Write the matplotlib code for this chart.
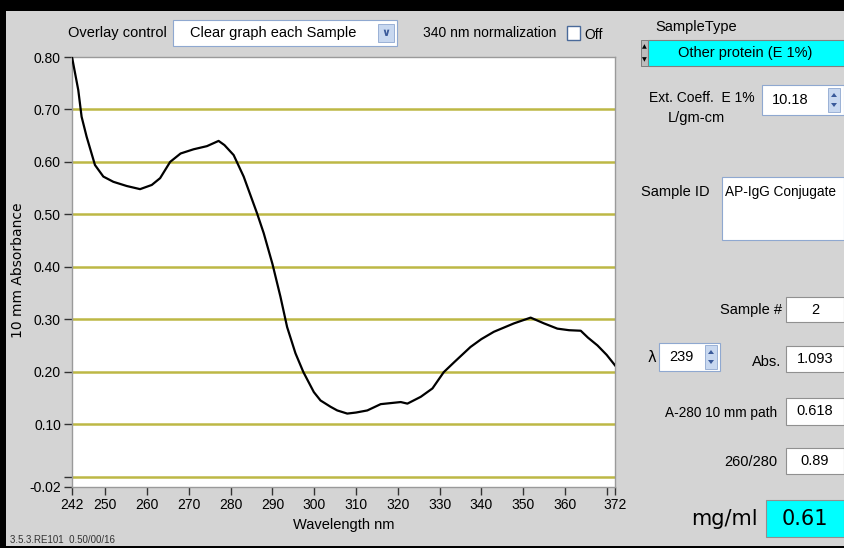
import matplotlib.pyplot as plt
from matplotlib.patches import Rectangle, Polygon

# spectrum
wavelength = [242, 243.5, 244.3, 245.5, 247.5, 249.5, 251.9, 255.1, 258.3, 261.1,
              263.1, 265.5, 268, 271.1, 274.3, 277.1, 278.5, 280.7, 283.1, 286.3,
              287.9, 290, 291.9, 293.5, 295.5, 297.4, 299.9, 301.5, 303.9, 305.5,
              307.9, 310, 312.7, 315.9, 318.3, 320.7, 322.3, 325.5, 328.3, 331,
              333.5, 337.4, 340, 343, 347.8, 351.8, 355, 358.2, 361, 363.8,
              365.5, 367.8, 370, 372]
absorbance = [0.80, 0.737, 0.686, 0.648, 0.594, 0.572, 0.562, 0.554, 0.548, 0.556,
              0.569, 0.600, 0.616, 0.624, 0.630, 0.640, 0.632, 0.613, 0.572, 0.502,
              0.464, 0.405, 0.343, 0.285, 0.235, 0.199, 0.161, 0.145, 0.133, 0.126,
              0.120, 0.122, 0.126, 0.138, 0.140, 0.142, 0.139, 0.152, 0.168, 0.199,
              0.218, 0.247, 0.262, 0.276, 0.292, 0.303, 0.292, 0.282, 0.279, 0.278,
              0.265, 0.250, 0.232, 0.212]

x_ticks = [242, 250, 260, 270, 280, 290, 300, 310, 320, 330, 340, 350, 360, 370, 372]
x_labels = ["242", "250", "260", "270", "280", "290", "300", "310", "320", "330",
            "340", "350", "360", "", "372"]
y_ticks = [-0.02, 0.0, 0.10, 0.20, 0.30, 0.40, 0.50, 0.60, 0.70, 0.80]
y_labels = ["-0.02", "", "0.10", "0.20", "0.30", "0.40", "0.50", "0.60", "0.70", "0.80"]
grid_levels = [0.0, 0.10, 0.20, 0.30, 0.40, 0.50, 0.60, 0.70]

W, H = 844, 548
BG = "#d4d4d4"
CYAN = "#00ffff"
FONT = ["Liberation Sans", "DejaVu Sans"]

fig = plt.figure(figsize=(W / 100, H / 100), dpi=100, facecolor=BG)


def rect(x, y, w, h, fc, ec="none", lw=1, z=1):
    fig.add_artist(Rectangle((x / W, 1 - (y + h) / H), w / W, h / H,
                             transform=fig.transFigure, facecolor=fc,
                             edgecolor=ec, linewidth=lw, zorder=z))


def txt(x, y, s, size=10, ha="left", va="center", **kw):
    kw.setdefault("family", FONT)
    fig.text(x / W, 1 - y / H, s, fontsize=size, ha=ha, va=va, zorder=5, **kw)


def spinner(x, y, h):
    # little up/down arrow button
    rect(x, y, 12, h, "#c8d8f0", ec="#8fa8d0", lw=0.6, z=3)
    mid = y + h / 2
    up = [((x + 3) / W, 1 - (mid - 3) / H), ((x + 9) / W, 1 - (mid - 3) / H),
          ((x + 6) / W, 1 - (mid - 7) / H)]
    dn = [((x + 3) / W, 1 - (mid + 3) / H), ((x + 9) / W, 1 - (mid + 3) / H),
          ((x + 6) / W, 1 - (mid + 7) / H)]
    for tri in (up, dn):
        fig.add_artist(Polygon(tri, closed=True, transform=fig.transFigure,
                               facecolor="#3a5a9a", edgecolor="none", zorder=4))


# window frame
rect(0, 0, W, 11, "black", z=2)
rect(0, 0, 6, H, "black", z=2)
rect(0, 546, W, 2, "black", z=6)

# plot
ax = fig.add_axes([72 / W, 1 - 487 / H, (615 - 72) / W, (487 - 57) / H])
ax.set_facecolor("white")
for lvl in grid_levels:
    ax.axhline(lvl, color="#bdb845", linewidth=1.8, zorder=1)
ax.plot(wavelength, absorbance, color="black", linewidth=1.6, zorder=3)
ax.set_xlim(242, 372)
ax.set_ylim(-0.02, 0.80)
ax.set_xticks(x_ticks)
ax.set_xticklabels(x_labels, family=FONT, fontsize=10)
ax.set_yticks(y_ticks)
ax.set_yticklabels(y_labels, family=FONT, fontsize=10)
ax.tick_params(axis="both", length=6, width=1, color="#333333", pad=2)
for sp in ax.spines.values():
    sp.set_color("#9a9a9a")
    sp.set_linewidth(1)
ax.set_xlabel("Wavelength nm", family=FONT, fontsize=10.5, labelpad=4)
txt(18, 270, "10 mm Absorbance", size=10, ha="center", rotation=90,
    family="DejaVu Sans")

# top controls
txt(68, 33, "Overlay control", size=10.5)
rect(173, 20, 224, 26, "white", ec="#8fa8d0", lw=0.8)
txt(190, 33, "Clear graph each Sample", size=10.5)
rect(378, 24, 16, 18, "#c8d8f0", ec="#8fa8d0", lw=0.6, z=3)
txt(386, 33, "\u2228", size=8, ha="center", family="DejaVu Sans", color="#3a5a9a",
    weight="bold")
txt(423, 33, "340 nm normalization", size=10)
rect(567, 26, 13, 14, "white", ec="#4a6a9a", lw=1)
txt(584, 35, "Off", size=10)

# right panel
txt(655, 27, "SampleType", size=10.5)
rect(641, 40, 7, 26, "#bcbcbc", ec="#707070", lw=0.6)
txt(644.5, 47, "\u25b2", size=4.5, ha="center", family="DejaVu Sans")
txt(644.5, 60, "\u25bc", size=4.5, ha="center", family="DejaVu Sans")
rect(648, 40, 196, 26, CYAN, ec="#808080", lw=0.8)
txt(745, 53, "Other protein (E 1%)", size=10.5, ha="center")

txt(702, 98, "Ext. Coeff.  E 1%", size=10, ha="center")
txt(696, 118, "L/gm-cm", size=10.5, ha="center")
rect(762, 85, 82, 30, "white", ec="#8fa8d0", lw=0.8)
txt(790, 100, "10.18", size=10.5, ha="center")
spinner(828, 88, 24)

txt(675, 192, "Sample ID", size=10.5, ha="center")
rect(722, 177, 122, 63, "white", ec="#8fa8d0", lw=0.8)
txt(725, 192, "AP-IgG Conjugate", size=9.8)

txt(782, 310, "Sample #", size=10.5, ha="right")
rect(786, 297, 58, 25, "white", ec="#909090", lw=0.8)
txt(815, 310, "2", size=10.5, ha="center")

txt(652, 357, "\u03bb", size=10.5, ha="center", family="DejaVu Sans")
rect(659, 343, 61, 28, "white", ec="#8fa8d0", lw=0.8)
txt(681, 357, "239", size=10.5, ha="center")
spinner(705, 345, 24)

txt(781, 362, "Abs.", size=10.5, ha="right")
rect(786, 346, 58, 26, "white", ec="#909090", lw=0.8)
txt(815, 359, "1.093", size=10.5, ha="center")

txt(777, 413, "A-280 10 mm path", size=9.8, ha="right")
rect(786, 398, 58, 27, "white", ec="#909090", lw=0.8)
txt(815, 411, "0.618", size=10.5, ha="center")

txt(777, 462, "260/280", size=10.5, ha="right")
rect(786, 448, 58, 26, "white", ec="#909090", lw=0.8)
txt(815, 461, "0.89", size=10.5, ha="center")

txt(758, 519, "mg/ml", size=15, ha="right", family="DejaVu Sans")
rect(766, 500, 78, 37, CYAN, ec="#909090", lw=0.8)
txt(805, 519, "0.61", size=15, ha="center", family="DejaVu Sans")

# version string at the very bottom edge
txt(10, 545, "3.5.3.RE101  0.50/00/16", size=7, va="bottom", color="#333333")

fig.savefig("out.png", dpi=100, facecolor=BG)
